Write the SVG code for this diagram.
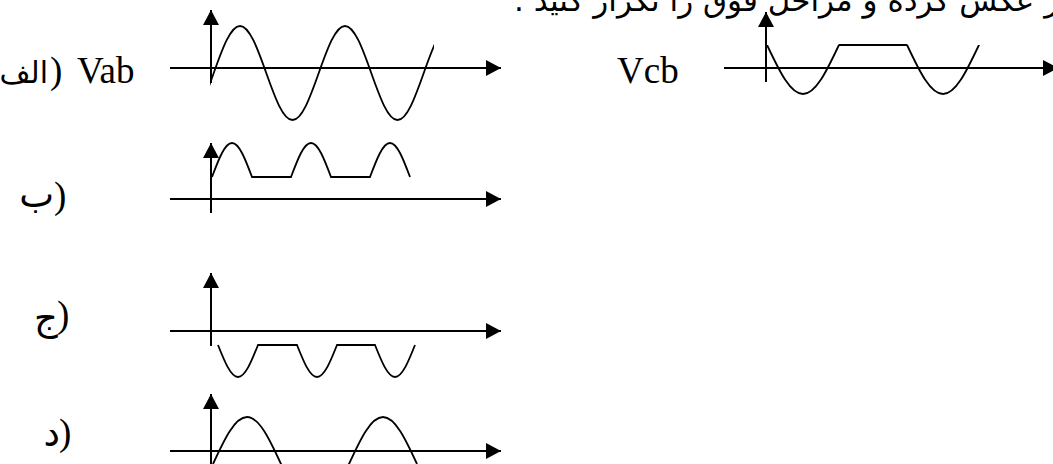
<svg xmlns="http://www.w3.org/2000/svg" width="1053" height="464" viewBox="0 0 1053 464">
<style>
  .axis { stroke: #000; stroke-width: 2; fill: none; marker-end: url(#arrow); }
  .wave { stroke: #000; stroke-width: 1.8; fill: none; }
  .lat { font-family: 'Liberation Serif', 'Times New Roman', serif; font-size: 37px; fill: #000; }
  .fa { font-family: 'DejaVu Sans', 'Noto Sans', sans-serif; fill: #000; }
  .lbl { font-size: 37px; }
</style>
<defs>
  <marker id="arrow" markerUnits="userSpaceOnUse" viewBox="0 0 15 16" markerWidth="15" markerHeight="16" refX="15" refY="8" orient="auto">
    <path d="M0,0 L15,8 L0,16 Z" fill="#000"/>
  </marker>
  <clipPath id="clipA"><rect x="210" y="0" width="224" height="140"/></clipPath>
  <clipPath id="clipVcb"><rect x="766" y="45" width="214" height="80"/></clipPath>
</defs>
<rect width="1053" height="464" fill="#fff"/>

<text class="fa" x="514" y="11" font-size="31" direction="rtl" text-anchor="end">بر عکس کرده و مراحل فوق را تکرار کنید .</text>

<g id="graph-alef">
  <text class="fa" x="48" y="83" font-size="30" text-anchor="end">الف</text>
  <text class="lat" x="50" y="83">)</text>
  <text class="lat" x="77" y="83">Vab</text>
  <line class="axis" x1="170" y1="68" x2="501" y2="68"/>
  <line class="axis" x1="211" y1="83" x2="211" y2="10"/>
  <path class="wave" clip-path="url(#clipA)" d="M187.5,120 C196.99,120 205.19,97.08 213.75,73 C222.31,48.92 230.51,26 240,26 C249.49,26 257.69,48.92 266.25,73 C274.81,97.08 283.01,120 292.5,120 C301.99,120 310.19,97.08 318.75,73 C327.31,48.92 335.51,26 345,26 C354.49,26 362.69,48.92 371.25,73 C379.81,97.08 388.01,120 397.5,120 C406.99,120 415.19,97.08 423.75,73 C432.31,48.92 440.51,26 450,26"/>
</g>

<g id="graph-vcb">
  <text class="lat" x="617" y="83">Vcb</text>
  <line class="axis" x1="724" y1="68" x2="1058" y2="68"/>
  <line class="axis" x1="766" y1="82" x2="766" y2="12"/>
  <path class="wave" clip-path="url(#clipVcb)" d="M733,0 C745.65,0 756.59,22.92 768,47 C779.41,71.08 790.35,94 803,94 C815.65,94 826.59,71.08 838,47 C849.41,22.92 860.35,0 873,0 C885.65,0 896.59,22.92 908,47 C919.41,71.08 930.35,94 943,94 C955.65,94 966.59,71.08 978,47 C989.41,22.92 1000.35,0 1013,0"/>
  <line class="wave" x1="838.5" y1="45" x2="907.5" y2="45"/>
</g>

<g id="graph-be">
  <text class="fa lbl" x="54" y="207" text-anchor="end">ب</text>
  <text class="lat" x="54" y="208">)</text>
  <line class="axis" x1="170" y1="199" x2="501" y2="199"/>
  <line class="axis" x1="211" y1="213" x2="211" y2="143"/>
  <path class="wave" d="M212,177 C218.52,159.58 224.77,143 232,143 C239.23,143 245.48,159.58 252,177 L291,177 C297.52,159.58 303.77,143 311,143 C318.23,143 324.48,159.58 331,177 L370,177 C376.52,159.58 382.77,143 390,143 C397.23,143 403.48,159.58 410,177"/>
</g>

<g id="graph-jim">
  <text class="fa lbl" x="58" y="330" text-anchor="end">ج</text>
  <text class="lat" x="57" y="327">)</text>
  <line class="axis" x1="170" y1="331" x2="501" y2="331"/>
  <line class="axis" x1="211" y1="346" x2="211" y2="273"/>
  <path class="wave" d="M218,345 C224.52,361.39 230.77,377 238,377 C245.23,377 251.48,361.39 258,345 L297,345 C303.52,361.39 309.77,377 317,377 C324.23,377 330.48,361.39 337,345 L375,345 C381.52,361.39 387.77,377 395,377 C402.23,377 408.48,361.39 415,345"/>
</g>

<g id="graph-dal">
  <text class="fa lbl" x="60" y="446" text-anchor="end">د</text>
  <text class="lat" x="59" y="445">)</text>
  <line class="axis" x1="170" y1="451" x2="501" y2="451"/>
  <line class="axis" x1="211" y1="470" x2="211" y2="394"/>
  <path class="wave" d="M213,464 C224.09,439.92 234.71,417 247,417 C259.29,417 269.91,439.92 281,464 C292.09,488.08 302.71,511 315,511 C327.29,511 337.91,488.08 349,464 C360.09,439.92 370.71,417 383,417 C395.29,417 405.91,439.92 417,464"/>
</g>

<g id="connectors"></g>
</svg>
